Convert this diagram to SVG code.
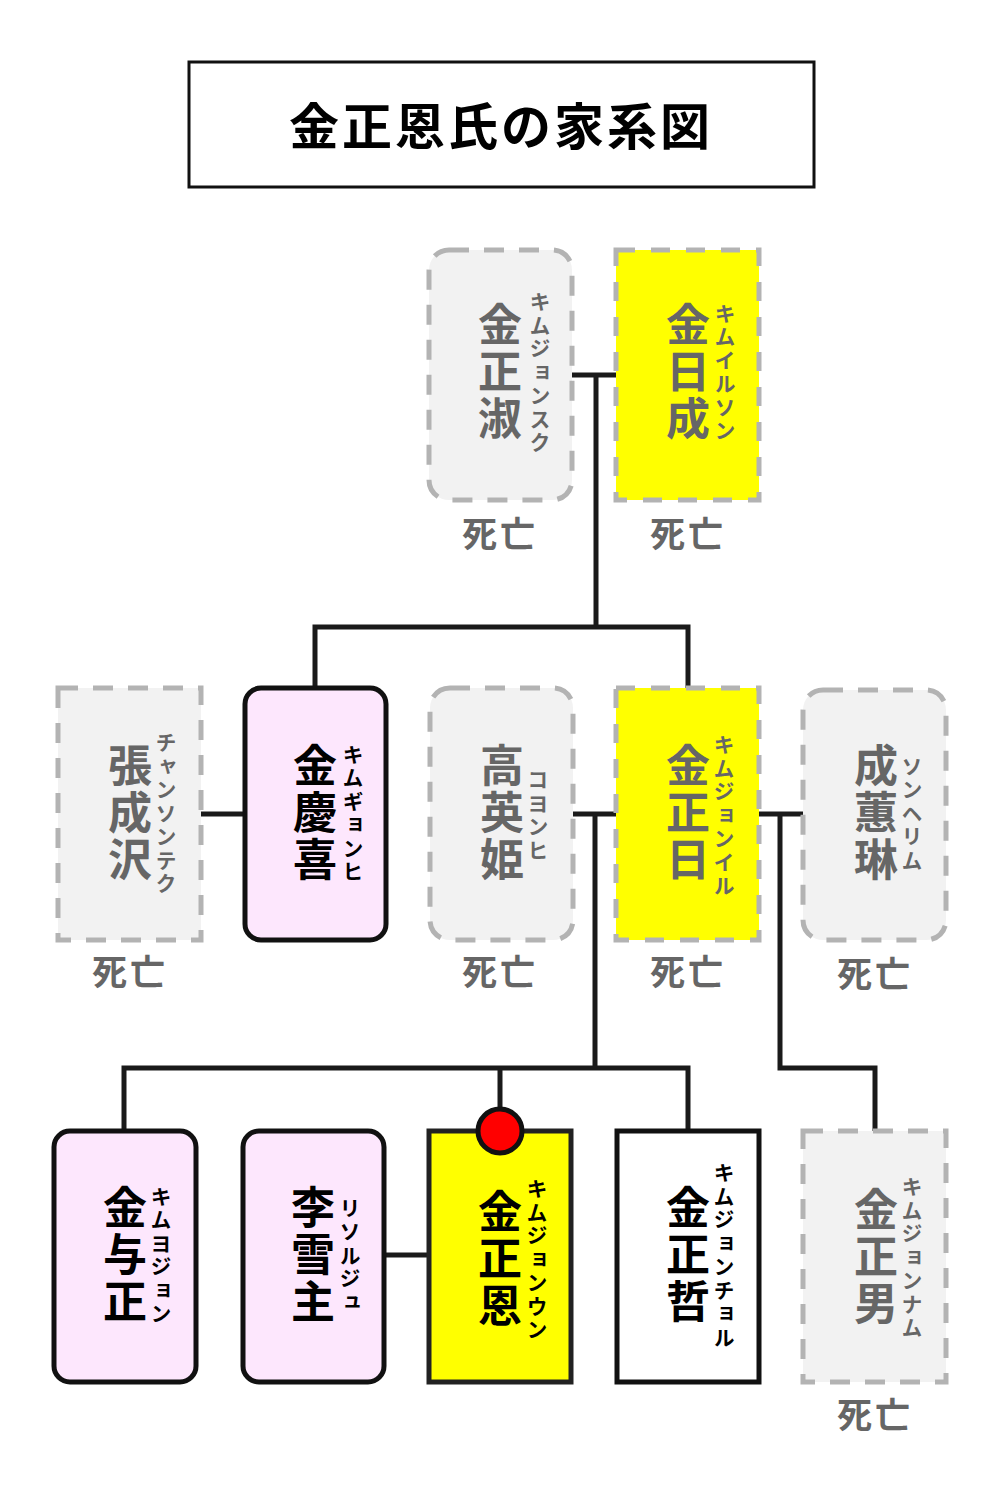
<svg xmlns="http://www.w3.org/2000/svg" width="1000" height="1500" viewBox="0 0 1000 1500">
<style>
text{font-family:"Noto Sans CJK JP","Noto Sans CJK SC",sans-serif;font-weight:700}
.title{font-size:50px;letter-spacing:3px;fill:#000;text-anchor:middle;dominant-baseline:central}
.v{writing-mode:vertical-rl;text-orientation:upright;text-anchor:middle}
.nm{font-size:44px;letter-spacing:3px}
.fu{font-size:21px;letter-spacing:2.5px}
.alive{fill:#000}
.dead{fill:#666}
.dd{font-size:35px;fill:#666;text-anchor:middle;dominant-baseline:central;letter-spacing:3px}
.gdash{fill:#f2f2f2;stroke:#b3b3b3;stroke-width:5;stroke-dasharray:20 15}
.ydash{fill:#ffff00;stroke:#b3b3b3;stroke-width:5;stroke-dasharray:19 16}
.pink{fill:#fde7fd;stroke:#111;stroke-width:5}
.ysolid{fill:#ffff00;stroke:#222;stroke-width:5}
.wsolid{fill:#fff;stroke:#111;stroke-width:5}
.conn{fill:none;stroke:#1a1a1a;stroke-width:5}
</style>

<g id="title">
<rect x="189" y="62" width="625" height="125" fill="#fff" stroke="#111" stroke-width="3"/>
<text class="title" x="501" y="123">金正恩氏の家系図</text>
</g>

<g id="connectors">
<path class="conn" d="M572 375 H616"/>
<path class="conn" d="M596 375 V627"/>
<path class="conn" d="M315 688 V627 H688 V688"/>
<path class="conn" d="M201 814 H245"/>
<path class="conn" d="M573 814 H616"/>
<path class="conn" d="M595 814 V1068"/>
<path class="conn" d="M759 814 H803"/>
<path class="conn" d="M780 814 V1068 H875 V1131"/>
<path class="conn" d="M124 1131 V1068 H688 V1131"/>
<path class="conn" d="M500 1068 V1131"/>
<path class="conn" d="M384 1255 H429"/>
</g>

<g id="kim-jong-suk">
<rect class="gdash" x="429" y="250" width="143" height="250" rx="20"/>
<text class="v nm dead" x="500" y="373">金正淑</text>
<text class="v fu dead" x="540" y="373">キムジョンスク</text>
<text class="dd" x="500" y="531">死亡</text>
</g>

<g id="kim-il-sung">
<rect class="ydash" x="616" y="250" width="143" height="250"/>
<text class="v nm dead" x="688" y="373">金日成</text>
<text class="v fu dead" x="725" y="373">キムイルソン</text>
<text class="dd" x="688" y="531">死亡</text>
</g>

<g id="jang-song-thaek">
<rect class="gdash" x="58" y="688" width="143" height="252"/>
<text class="v nm dead" x="130" y="814">張成沢</text>
<text class="v fu dead" x="166" y="814">チャンソンテク</text>
<text class="dd" x="130" y="969">死亡</text>
</g>

<g id="kim-kyong-hui">
<rect class="pink" x="245" y="688" width="141" height="252" rx="16"/>
<text class="v nm alive" x="315" y="814">金慶喜</text>
<text class="v fu alive" x="353" y="814">キムギョンヒ</text>
</g>

<g id="ko-yong-hui">
<rect class="gdash" x="430" y="688" width="143" height="252" rx="20"/>
<text class="v nm dead" x="502" y="814">高英姫</text>
<text class="v fu dead" x="538" y="816">コヨンヒ</text>
<text class="dd" x="500" y="969">死亡</text>
</g>

<g id="kim-jong-il">
<rect class="ydash" x="616" y="688" width="143" height="252"/>
<text class="v nm dead" x="688" y="814">金正日</text>
<text class="v fu dead" x="724" y="816">キムジョンイル</text>
<text class="dd" x="688" y="969">死亡</text>
</g>

<g id="song-hye-rim">
<rect class="gdash" x="803" y="690" width="143" height="250" rx="20"/>
<text class="v nm dead" x="876" y="814">成蕙琳</text>
<text class="v fu dead" x="912" y="814">ソンヘリム</text>
<text class="dd" x="875" y="971">死亡</text>
</g>

<g id="kim-yo-jong">
<rect class="pink" x="54" y="1131" width="142" height="251" rx="16"/>
<text class="v nm alive" x="125" y="1256">金与正</text>
<text class="v fu alive" x="161" y="1256">キムヨジョン</text>
</g>

<g id="ri-sol-ju">
<rect class="pink" x="243" y="1131" width="141" height="251" rx="16"/>
<text class="v nm alive" x="313" y="1256">李雪主</text>
<text class="v fu alive" x="350" y="1256">リソルジュ</text>
</g>

<g id="kim-jong-un">
<rect class="ysolid" x="429" y="1131" width="142" height="251"/>
<text class="v nm alive" x="500" y="1260">金正恩</text>
<text class="v fu alive" x="537" y="1260">キムジョンウン</text>
<circle cx="500" cy="1131" r="22" fill="#ff0000" stroke="#111" stroke-width="5"/>
</g>

<g id="kim-jong-chol">
<rect class="wsolid" x="617" y="1131" width="142" height="251"/>
<text class="v nm alive" x="688" y="1256">金正哲</text>
<text class="v fu alive" x="724" y="1256">キムジョンチョル</text>
</g>

<g id="kim-jong-nam">
<rect class="gdash" x="803" y="1131" width="143" height="251"/>
<text class="v nm dead" x="876" y="1258">金正男</text>
<text class="v fu dead" x="912" y="1258">キムジョンナム</text>
<text class="dd" x="875" y="1412">死亡</text>
</g>
</svg>
